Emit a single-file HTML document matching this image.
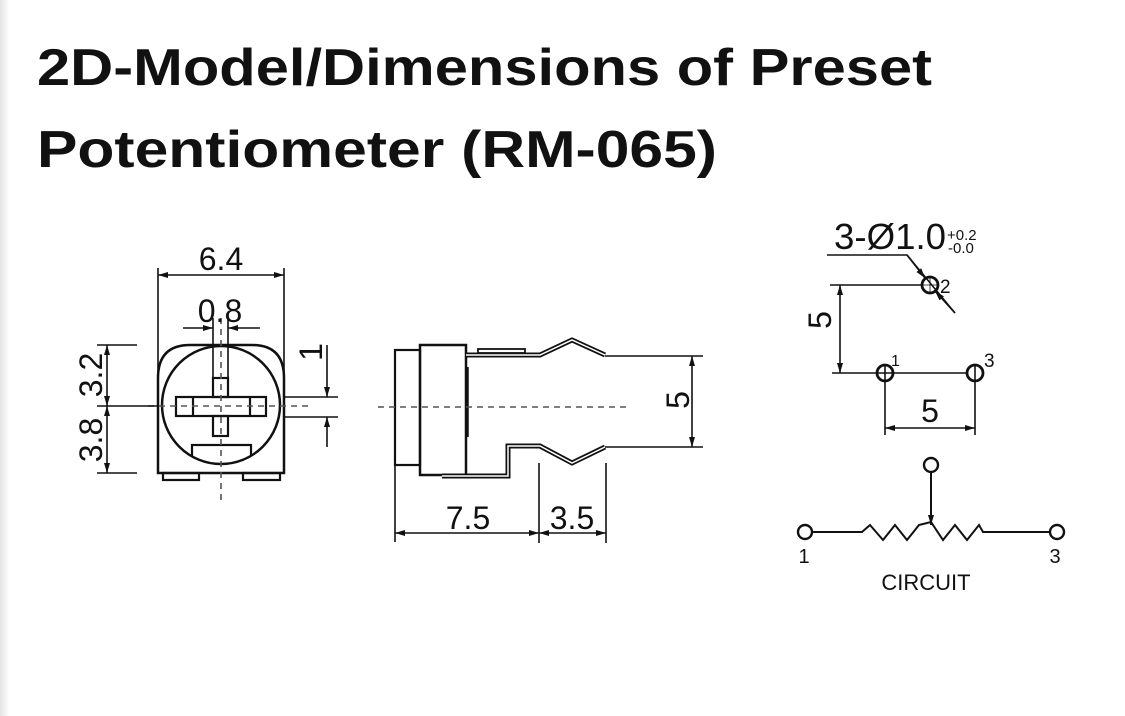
<!DOCTYPE html>
<html><head><meta charset="utf-8"><style>
html,body{margin:0;padding:0;background:#fff;}
body{width:1125px;height:716px;overflow:hidden;position:relative;}
</style></head><body>
<svg width="1125" height="716" viewBox="0 0 1125 716" xmlns="http://www.w3.org/2000/svg" style="position:absolute;left:0;top:0">
<defs>
<linearGradient id="lg" x1="0" x2="1"><stop offset="0" stop-color="#e4e4e4"/><stop offset="1" stop-color="#fff"/></linearGradient>
<marker id="a" viewBox="0 0 10 6" refX="10" refY="3" markerWidth="11" markerHeight="6" markerUnits="userSpaceOnUse" orient="auto-start-reverse"><path d="M0,0 L10,3 L0,6z" fill="#111"/></marker>
<clipPath id="cc"><circle cx="221" cy="405" r="59"/></clipPath>
</defs>
<rect x="0" y="0" width="10" height="716" fill="url(#lg)"/>
<g font-family="'Liberation Sans', sans-serif" font-weight="bold" fill="#111" font-size="52">
<text x="37" y="85" textLength="895" lengthAdjust="spacingAndGlyphs">2D-Model/Dimensions of Preset</text>
<text x="37" y="167" textLength="680" lengthAdjust="spacingAndGlyphs">Potentiometer (RM-065)</text>
</g>

<g stroke="#111" fill="none" stroke-width="1.6">
<line x1="158" y1="268" x2="158" y2="473"/>
<line x1="284" y1="268" x2="284" y2="473"/>
<line x1="158" y1="275" x2="284" y2="275" marker-start="url(#a)" marker-end="url(#a)"/>
<line x1="213" y1="318" x2="213" y2="378"/>
<line x1="228" y1="318" x2="228" y2="378"/>
<line x1="183" y1="328" x2="213" y2="328" marker-end="url(#a)"/>
<line x1="228" y1="328" x2="260" y2="328" marker-start="url(#a)"/>
<path d="M158,473 V378 Q158,345 190,345 H252 Q284,345 284,378 V473 Z" stroke-width="2.5"/>
<rect x="163" y="473" width="36" height="7" stroke-width="2.2"/>
<rect x="243" y="473" width="37" height="7" stroke-width="2.2"/>
<circle cx="221" cy="405" r="59" stroke-width="2.5"/>
<rect x="176" y="397" width="90" height="19" stroke-width="2.2"/>
<line x1="193" y1="397" x2="193" y2="416" stroke-width="2.2"/>
<line x1="250" y1="397" x2="250" y2="416" stroke-width="2.2"/>
<rect x="213" y="378" width="15" height="19" stroke-width="2.2"/>
<rect x="213" y="416" width="15" height="20" stroke-width="2.2"/>
<g clip-path="url(#cc)"><rect x="192" y="445" width="59" height="40" stroke-width="2.2"/></g>
<line x1="148" y1="406" x2="310" y2="406" stroke-dasharray="6,5" stroke="#555"/>
<line x1="221" y1="318" x2="221" y2="505" stroke-dasharray="6,5" stroke="#555"/>
<line x1="97" y1="345" x2="137" y2="345"/>
<line x1="97" y1="406" x2="158" y2="406"/>
<line x1="97" y1="473" x2="137" y2="473"/>
<line x1="107" y1="345" x2="107" y2="406" marker-start="url(#a)" marker-end="url(#a)"/>
<line x1="107" y1="406" x2="107" y2="473" marker-start="url(#a)" marker-end="url(#a)"/>
<line x1="283" y1="397" x2="338" y2="397"/>
<line x1="283" y1="417" x2="338" y2="417"/>
<line x1="327" y1="345" x2="327" y2="397" marker-end="url(#a)"/>
<line x1="327" y1="447" x2="327" y2="417" marker-end="url(#a)"/>

<rect x="395" y="350" width="25" height="115" stroke-width="2.2"/>
<rect x="420" y="345" width="46" height="130" stroke-width="2.5"/>
<line x1="467" y1="367" x2="467" y2="437" stroke-width="3.5"/>
<rect x="478" y="349" width="47" height="4" stroke-width="1.8"/>
<path d="M466,355 H540 L572,340 L605,355" stroke-width="5"/>
<path d="M466,355 H540 L572,340 L605,355" stroke="#fff" stroke-width="1.5"/>
<path d="M442,476 H508 V446 H540 L572,463 L605,447" stroke-width="5"/>
<path d="M442,476 H508 V446 H540 L572,463 L605,447" stroke="#fff" stroke-width="1.5"/>
<line x1="378" y1="407" x2="628" y2="407" stroke-dasharray="6,5" stroke="#555"/>
<line x1="605" y1="356" x2="703" y2="356"/>
<line x1="605" y1="447" x2="703" y2="447"/>
<line x1="692" y1="356" x2="692" y2="447" marker-start="url(#a)" marker-end="url(#a)"/>
<line x1="395" y1="465" x2="395" y2="542"/>
<line x1="539" y1="463" x2="539" y2="543"/>
<line x1="606" y1="463" x2="606" y2="543"/>
<line x1="395" y1="533" x2="539" y2="533" marker-start="url(#a)" marker-end="url(#a)"/>
<line x1="539" y1="533" x2="606" y2="533" marker-start="url(#a)" marker-end="url(#a)"/>

<path d="M827,255 H907 L955,313"/>
<line x1="907" y1="255" x2="925" y2="278" marker-end="url(#a)"/>
<line x1="955" y1="313" x2="935" y2="291" marker-end="url(#a)"/>
<circle cx="930" cy="285" r="8" stroke-width="2.8"/>
<line x1="930" y1="276" x2="930" y2="294" stroke-width="0.8"/>
<line x1="921" y1="285" x2="939" y2="285" stroke-width="0.8"/>
<line x1="830" y1="285" x2="922" y2="285"/>
<line x1="832" y1="373" x2="967" y2="373"/>
<line x1="840" y1="285" x2="840" y2="373" marker-start="url(#a)" marker-end="url(#a)"/>
<circle cx="885" cy="373" r="8" stroke-width="2.8"/>
<circle cx="975" cy="373" r="8" stroke-width="2.8"/>
<line x1="885" y1="365" x2="885" y2="435"/>
<line x1="975" y1="365" x2="975" y2="435"/>
<line x1="885" y1="428" x2="975" y2="428" marker-start="url(#a)" marker-end="url(#a)"/>

<circle cx="931" cy="465" r="7" stroke-width="2.4"/>
<line x1="931" y1="472" x2="931" y2="525" stroke-width="2" marker-end="url(#a)"/>
<circle cx="805" cy="532" r="7" stroke-width="2.4"/>
<circle cx="1057" cy="532" r="7" stroke-width="2.4"/>
<path d="M812,532 H862 L870,525 L883,540 L895,525 L907,540 L919,525 L931,522 L943,540 L955,525 L967,540 L979,525 L983,532 H1050" stroke-width="2"/>
</g>

<g font-family="'Liberation Sans', sans-serif" fill="#111">
<text x="221" y="270" font-size="32" text-anchor="middle">6.4</text>
<text x="220" y="322" font-size="32" text-anchor="middle">0.8</text>
<text transform="translate(102,375) rotate(-90)" font-size="32" text-anchor="middle">3.2</text>
<text transform="translate(102,440) rotate(-90)" font-size="32" text-anchor="middle">3.8</text>
<text transform="translate(322,352) rotate(-90)" font-size="32" text-anchor="middle">1</text>
<text transform="translate(689,400) rotate(-90)" font-size="32" text-anchor="middle">5</text>
<text x="468" y="529" font-size="32" text-anchor="middle">7.5</text>
<text x="572" y="529" font-size="32" text-anchor="middle">3.5</text>
<text x="834" y="249" font-size="36" textLength="112" lengthAdjust="spacingAndGlyphs">3-Ø1.0</text>
<text x="947" y="240" font-size="15">+0.2</text>
<text x="948" y="253" font-size="15">-0.0</text>
<text x="940" y="293" font-size="19">2</text>
<text x="891" y="366" font-size="16">1</text>
<text x="984" y="367" font-size="19">3</text>
<text transform="translate(831,320) rotate(-90)" font-size="32" text-anchor="middle">5</text>
<text x="930" y="422" font-size="32" text-anchor="middle">5</text>
<text x="804" y="563" font-size="20" text-anchor="middle">1</text>
<text x="1055" y="563" font-size="20" text-anchor="middle">3</text>
<text x="926" y="590" font-size="22" text-anchor="middle">CIRCUIT</text>
</g>
</svg>
</body></html>
